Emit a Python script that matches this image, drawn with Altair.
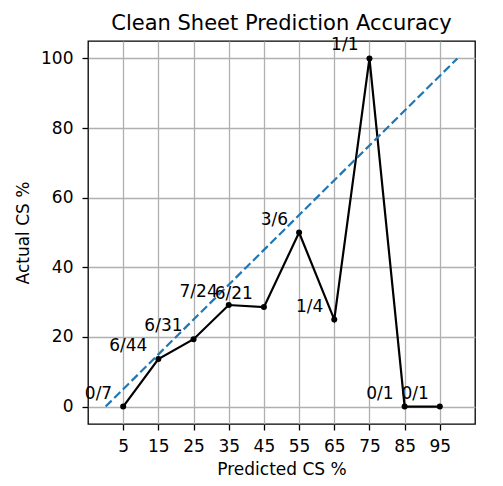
import altair as alt
import pandas as pd

predicted = [5, 15, 25, 35, 45, 55, 65, 75, 85, 95]
actual = [0, 13.64, 19.35, 29.17, 28.57, 50, 25, 100, 0, 0]
labels = ["0/7", "6/44", "6/31", "7/24", "6/21", "3/6", "1/4", "1/1", "0/1", "0/1"]
diag_x = [0, 100]
diag_y = [0, 100]
x_ticks = [5, 15, 25, 35, 45, 55, 65, 75, 85, 95]
y_ticks = [0, 20, 40, 60, 80, 100]

df = pd.DataFrame({"pred": predicted, "act": actual, "label": labels})
diag = pd.DataFrame({"pred": diag_x, "act": diag_y})

FONT = "DejaVu Sans"

xsc = alt.Scale(domain=[-5, 105], nice=False, zero=False)
ysc = alt.Scale(domain=[-5, 105], nice=False, zero=False)

xax = alt.Axis(values=x_ticks, title="Predicted CS %", grid=True, labelPadding=8, titlePadding=7)
yax = alt.Axis(values=y_ticks, title="Actual CS %", grid=True, labelPadding=9, titlePadding=8)

base_x = alt.X("pred:Q", scale=xsc, axis=xax)
base_y = alt.Y("act:Q", scale=ysc, axis=yax)

line = alt.Chart(df).mark_line(color="black", strokeWidth=2.2).encode(x=base_x, y=base_y)
pts = alt.Chart(df).mark_point(filled=True, color="black", size=36, opacity=1).encode(x=base_x, y=base_y)
diag_line = alt.Chart(diag).mark_line(color="#1f77b4", strokeWidth=2.2, strokeDash=[8.5, 3.7]).encode(
    x=base_x, y=base_y
)
text = alt.Chart(df).mark_text(
    align="right", baseline="alphabetic", dx=-11, dy=-8, fontSize=17, font=FONT, color="black"
).encode(x=base_x, y=base_y, text="label:N")

chart = (
    alt.layer(line, pts, diag_line, text)
    .properties(
        width=387,
        height=383,
        title=alt.TitleParams("Clean Sheet Prediction Accuracy", fontSize=21, font=FONT,
                              fontWeight="normal", color="black", offset=2),
        autosize=alt.AutoSizeParams(type="none"),
        padding={"left": 80, "top": 33, "right": 20, "bottom": 55},
    )
    .configure_view(stroke="black", strokeWidth=1.3)
    .configure_axis(
        domain=False,
        gridColor="#b0b0b0",
        gridWidth=1.3,
        tickColor="black",
        tickWidth=1.3,
        tickSize=6,
        labelFont=FONT,
        labelFontSize=17,
        labelColor="black",
        titleFont=FONT,
        titleFontSize=17,
        titleFontWeight="normal",
        titleColor="black",
    )
)

chart.save("out.html", embed_options={"renderer": "svg", "actions": False})
